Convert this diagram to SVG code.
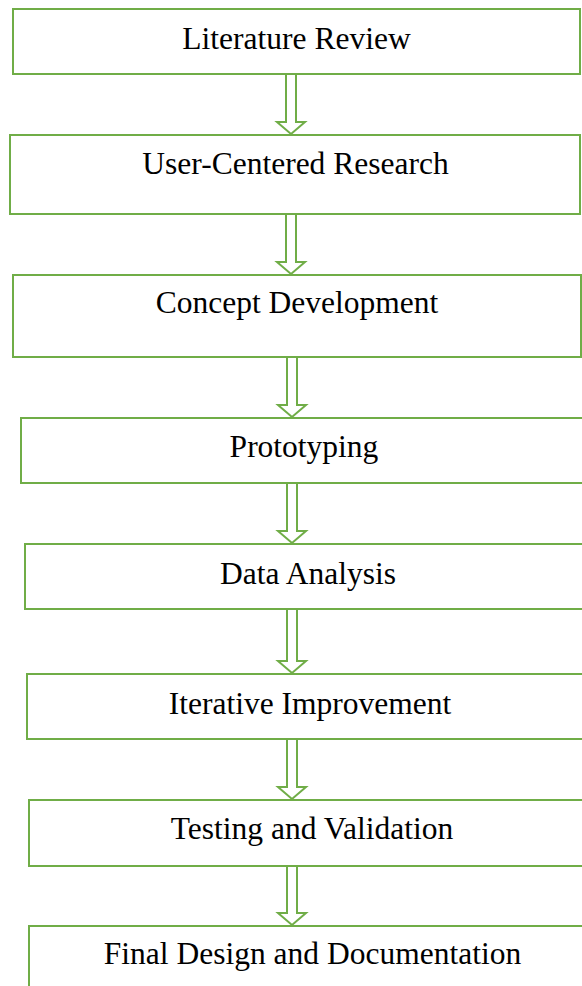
<svg xmlns="http://www.w3.org/2000/svg" width="582" height="986" viewBox="0 0 582 986">
<style>
.box{fill:#fff;stroke:#70AD47;stroke-width:2}
.arr{fill:#fff;stroke:#70AD47;stroke-width:2;stroke-linejoin:miter}
.lbl{font-family:"Liberation Serif","Times New Roman",serif;font-size:31.5px;fill:#000;text-anchor:middle}
</style>
<rect width="582" height="986" fill="#fff"/>
<g id="connectors">
<path class="arr" d="M286,74 L296,74 L296,122 L305,122 L291,134 L277,122 L286,122 Z"/>
<path class="arr" d="M286,214 L296,214 L296,262 L305,262 L291,274 L277,262 L286,262 Z"/>
<path class="arr" d="M287,357 L297,357 L297,405 L306,405 L292,417 L278,405 L287,405 Z"/>
<path class="arr" d="M287,483 L297,483 L297,531 L306,531 L292,543 L278,531 L287,531 Z"/>
<path class="arr" d="M287,609 L297,609 L297,661 L306,661 L292,673 L278,661 L287,661 Z"/>
<path class="arr" d="M287,739 L297,739 L297,787 L306,787 L292,799 L278,787 L287,787 Z"/>
<path class="arr" d="M287,866 L297,866 L297,913 L306,913 L292,925 L278,913 L287,913 Z"/>
</g>
<g id="n1"><rect class="box" x="13" y="9" width="567" height="65"/><text class="lbl" x="296.5" y="48.5">Literature Review</text></g>
<g id="n2"><rect class="box" x="10" y="135" width="570" height="79"/><text class="lbl" x="295.5" y="173.5">User-Centered Research</text></g>
<g id="n3"><rect class="box" x="13" y="275" width="568" height="82"/><text class="lbl" x="297" y="313">Concept Development</text></g>
<g id="n4"><rect class="box" x="21" y="418" width="570" height="65"/><text class="lbl" x="304" y="457">Prototyping</text></g>
<g id="n5"><rect class="box" x="25" y="544" width="570" height="65"/><text class="lbl" x="308" y="583.5">Data Analysis</text></g>
<g id="n6"><rect class="box" x="27" y="674" width="570" height="65"/><text class="lbl" x="310" y="713.5">Iterative Improvement</text></g>
<g id="n7"><rect class="box" x="29" y="800" width="570" height="66"/><text class="lbl" x="312" y="838.5">Testing and Validation</text></g>
<g id="n8"><rect class="box" x="29" y="926" width="570" height="80"/><text class="lbl" x="312.5" y="964">Final Design and Documentation</text></g>
</svg>
